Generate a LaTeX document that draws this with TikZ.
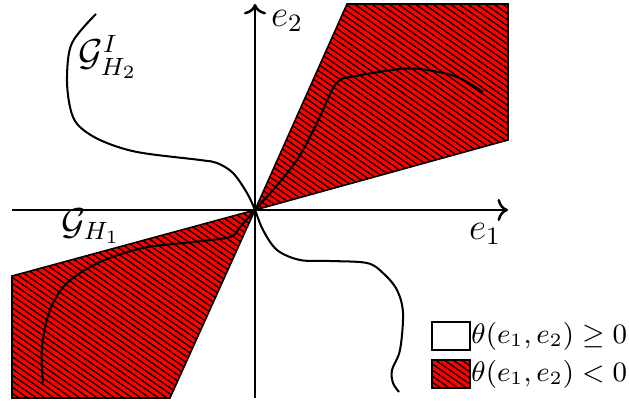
\documentclass[tikz,border=0pt]{standalone}
\usepackage{amsmath,amssymb}
\usetikzlibrary{arrows.meta, patterns.meta, positioning}

\begin{document}
\begin{tikzpicture}[
  x=0.32pt, y=0.32pt,
  axis/.style={->, line width=0.8pt},
  region/.style={draw=black, line width=0.5pt, preaction={fill=red},
                 pattern={Lines[angle=-35, distance=1.6pt, line width=0.4pt]}},
  curve/.style={line width=0.65pt, smooth, tension=0.55},
  lbl/.style={inner sep=0pt, font=\large},
  legbox/.style={draw=black, line width=0.5pt, minimum width=12.2pt,
                 minimum height=9pt, inner sep=0pt},
  legtext/.style={inner sep=0pt, font=\fontsize{9.2}{11}\selectfont},
]
  \useasboundingbox (-255,-193) rectangle (374,210);

  % regions where theta < 0
  \draw[region] (0,0) -- (92,206) -- (253,206) -- (253,70) -- cycle;
  \draw[region] (0,0) -- (-243,-66) -- (-243,-188) -- (-85,-188) -- cycle;

  % axes
  \draw[axis] (-243,0) -- (253,0);
  \draw[axis] (0,-188) -- (0,206);
  \node[lbl] (e1) at (230,-24) {$e_1$};
  \node[lbl] (e2) at (32,189) {$e_2$};

  % level curves
  \draw[curve] plot coordinates {(-159,196) (-183,167) (-188,133) (-185,103)
    (-177,85) (-155,70) (-118,58) (-55,50) (-38,47) (-22,37) (-8,17) (0,0)
    (8,-20) (22,-40) (45,-50) (75,-51) (112,-53) (128,-63) (142,-80)
    (148,-103) (145,-140) (137,-160) (138,-173) (144,-182)};
  \draw[curve] plot coordinates {(228,118) (202,133) (172,140) (145,141)
    (95,133) (85,130) (77,120) (62,87) (42,50) (18,20) (0,0) (-15,-17)
    (-25,-27) (-62,-32) (-112,-38) (-155,-52) (-188,-73) (-205,-100)
    (-213,-137) (-212,-173)};
  \node[lbl] (GH2) at (-147,153) {$\mathcal{G}^I_{H_2}$};
  \node[lbl] (GH1) at (-164,-16) {$\mathcal{G}_{H_1}$};

  % legend
  \node[legbox, fill=white] (box1) at (196,-126) {};
  \node[legbox, region] (box2) at (196,-164) {};
  \node[legtext, right=0pt of box1] (leg1) {$\theta(e_1,e_2)\geq 0$};
  \node[legtext, right=0pt of box2] (leg2) {$\theta(e_1,e_2)<0$};
\end{tikzpicture}
\end{document}
